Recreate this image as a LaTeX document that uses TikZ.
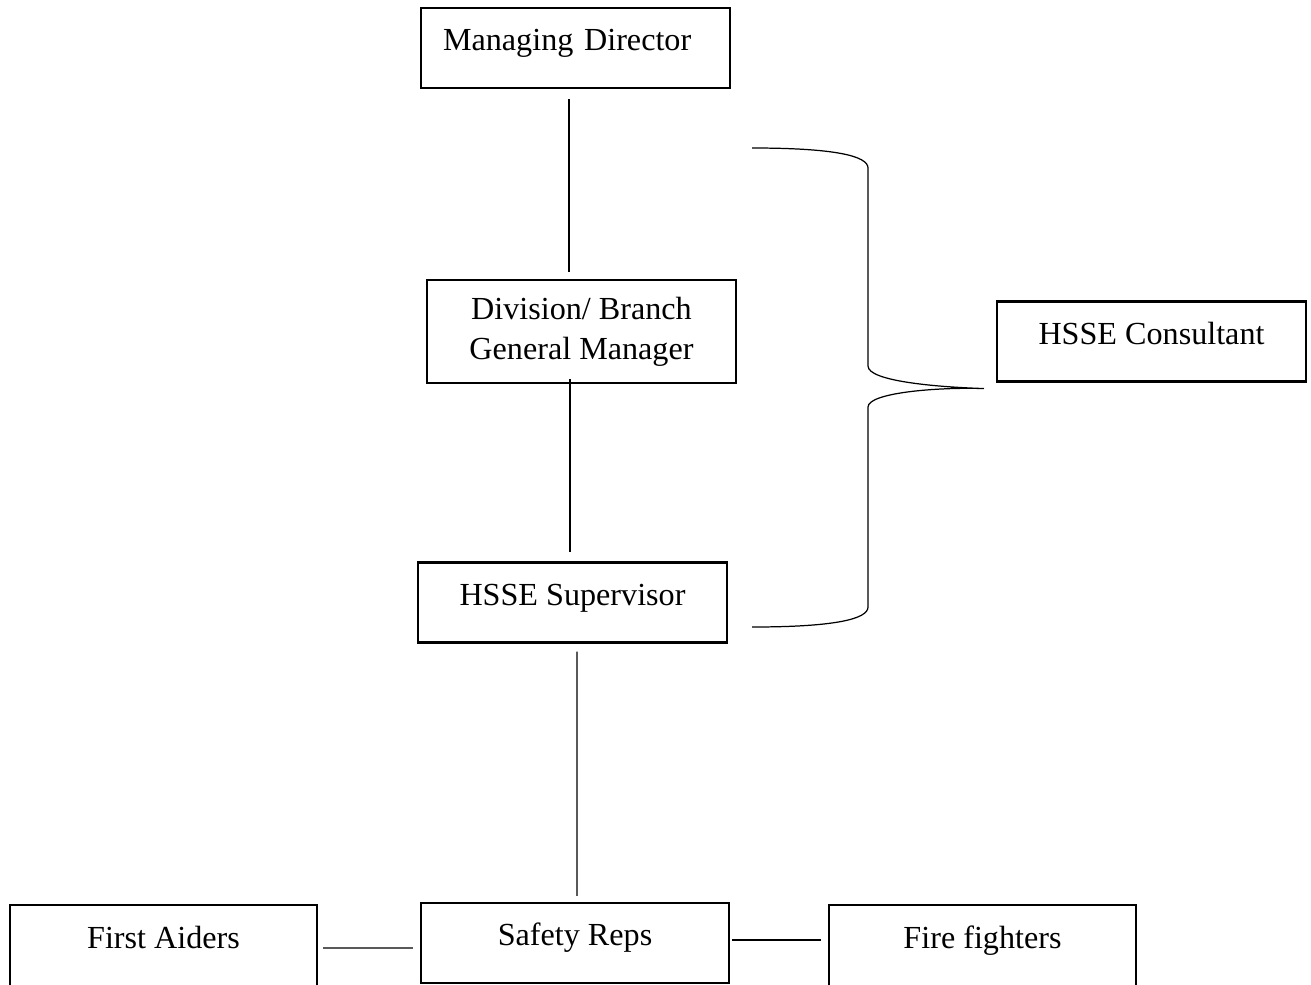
\documentclass[tikz,border=0pt]{standalone}
\usepackage{fontspec}
\setmainfont{Liberation Serif}
\usepackage{tikz}
\usetikzlibrary{calc,positioning}
\tikzset{%
	orgbox/.style = {draw, rectangle, line width=1.2pt, minimum width=6.18cm, minimum height=1.6cm, text centered, font=\fontsize{18.3}{22.7}\selectfont, text height=8.5pt, text depth=5.5pt},
	twoline/.style = {draw, rectangle, line width=1.2pt, minimum width=6.18cm, minimum height=2.06cm, align=center, font=\fontsize{18.3}{22.7}\selectfont},
	link/.style   = {line width=0.7pt},
}

\begin{document}
\begin{tikzpicture}[x=0.02cm,y=-0.02cm]
	\useasboundingbox (0,0) rectangle (1311,984);
	
	\node[orgbox, text width=5.3cm, inner xsep=0.44cm, align=left] (md) at (575.5,48) {Managing Director};
	\node[twoline] (div) at (581.5,331.5) {Division/ Branch\\General Manager};
	\node[orgbox] (sup) at (572.5,602.5) {HSSE Supervisor};
	\node[orgbox] (cons) at (1151.5,341.5) {HSSE Consultant};
	\node[orgbox, minimum width=6.14cm, minimum height=1.62cm] (aid) at (163.5,945.5) {First Aiders};
	\node[orgbox, minimum width=6.16cm] (reps) at (575,943) {Safety Reps};
	\node[orgbox, minimum width=6.14cm, minimum height=1.62cm] (fire) at (982.5,945.5) {Fire fighters};
	
	\draw[link] ($(md.south)+(-6.5,10)$) -- ($(div.north)+(-12.5,-7)$);
	\draw[link] ($(div.south)+(-11.5,-5)$) -- ($(sup.north)+(-2.5,-9)$);
	\draw[link] ($(sup.south)+(4.5,8)$) -- ($(reps.north)+(2,-6)$);
	\draw[link] ($(aid.east)+(5,2.5)$) -- ($(reps.west)+(-7,5)$);
	\draw[link] ($(reps.east)+(2,-3)$) -- ($(fire.west)+(-7,-5.5)$);
	
	% brace towards the consultant
	\coordinate (tip) at ($(cons.south west)+(-12,6)$);
	\draw[link] (752,148) .. controls (835,148) and (868,156) .. (868,168) -- (868,366)
		.. controls (868,381) and (935,387) .. (tip)
		.. controls (935,387) and (868,393) .. (868,407) -- (868,607)
		.. controls (868,619) and (835,627) .. (752,627);
	
\end{tikzpicture}
\end{document}
